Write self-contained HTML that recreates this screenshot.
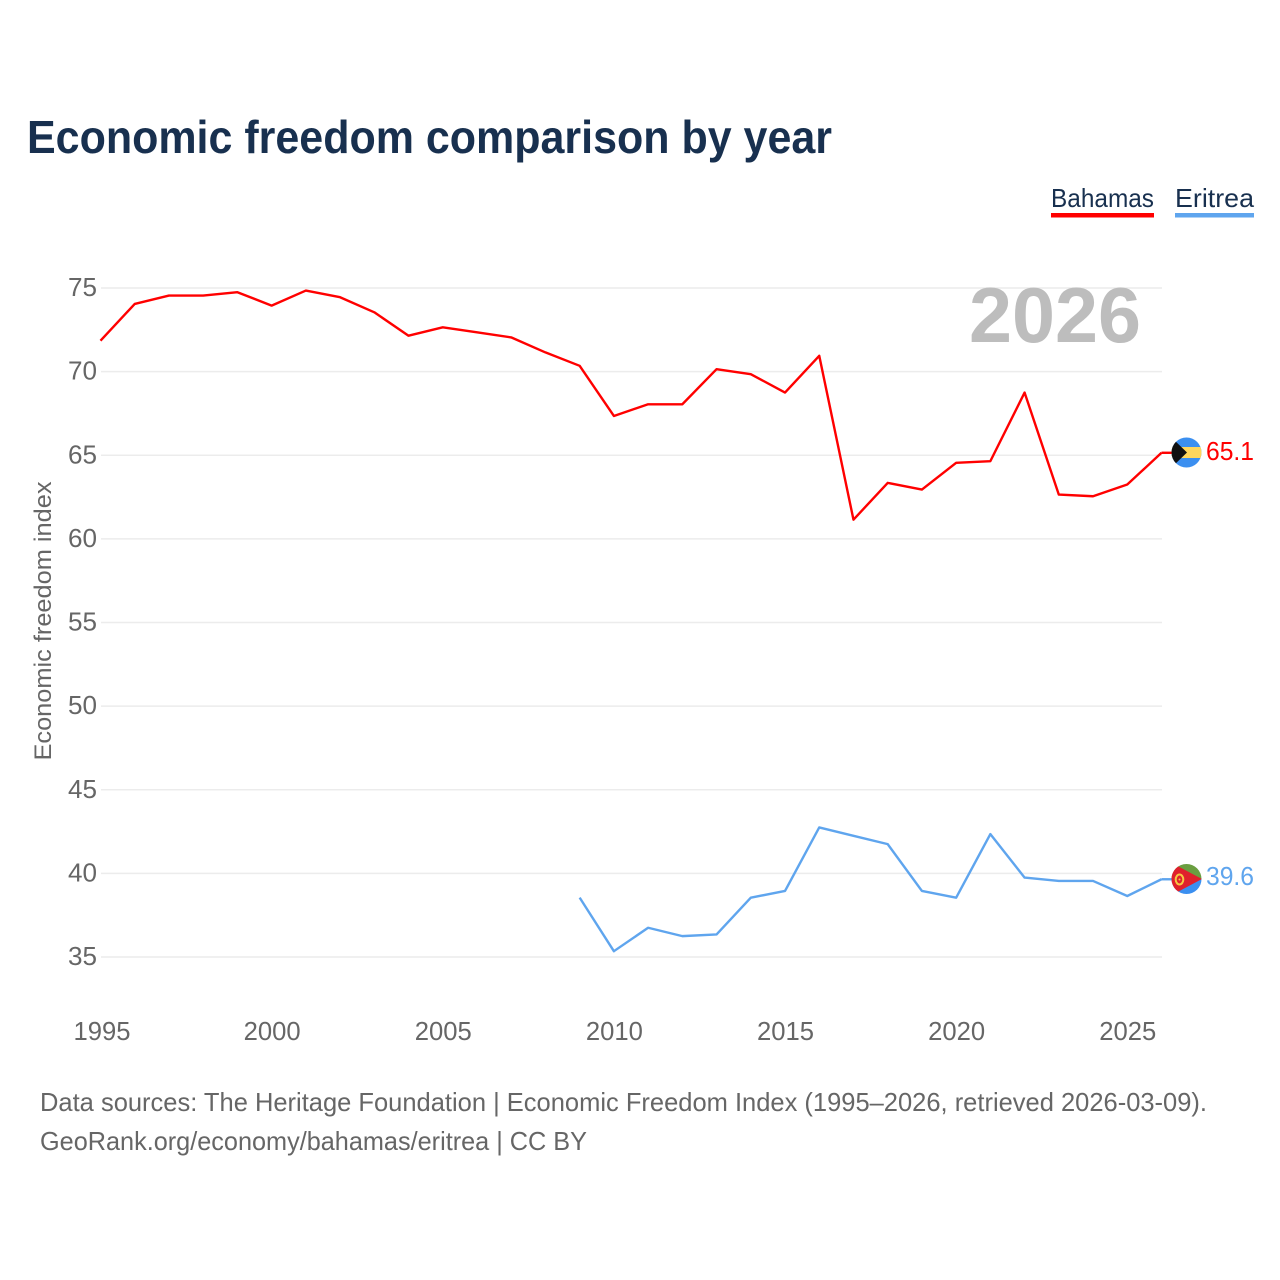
<!DOCTYPE html>
<html lang="en">
<head>
<meta charset="utf-8">
<title>Economic freedom comparison by year</title>
<style>
html,body{margin:0;padding:0;background:#fff;width:1280px;height:1280px;overflow:hidden}
svg{display:block}
text{font-family:"Liberation Sans",sans-serif}
</style>
</head>
<body>
<svg id="chart" width="1280" height="1280" viewBox="0 0 1280 1280" xmlns="http://www.w3.org/2000/svg">
  <defs>
    <clipPath id="flag-clip-a"><circle cx="1186.5" cy="452.5" r="15"/></clipPath>
    <clipPath id="flag-clip-b"><circle cx="1186.5" cy="879" r="15"/></clipPath>
  </defs>
  <rect width="1280" height="1280" fill="#fff"/>
  <text x="27" y="153" font-size="46" font-weight="700" fill="#18304f" textLength="805" lengthAdjust="spacingAndGlyphs">Economic freedom comparison by year</text>

  <g>
    <text x="1051" y="207" font-size="26" fill="#18304f" textLength="103" lengthAdjust="spacingAndGlyphs">Bahamas</text>
    <rect x="1051" y="213" width="103" height="4.5" fill="#ff0000"/>
  </g>
  <g>
    <text x="1175" y="207" font-size="26" fill="#18304f" textLength="79" lengthAdjust="spacingAndGlyphs">Eritrea</text>
    <rect x="1175" y="213" width="79" height="4.5" fill="#5fa5ee"/>
  </g>

  <g id="grid"></g>
  <text x="969" y="342" font-size="78" font-weight="700" fill="#bdbdbd" textLength="172" lengthAdjust="spacingAndGlyphs">2026</text>
  <g id="y-ticks"></g>
  <g id="x-ticks"></g>
  <text transform="translate(51,621) rotate(-90)" text-anchor="middle" font-size="24.5" fill="#666" textLength="279" lengthAdjust="spacingAndGlyphs">Economic freedom index</text>
  <g id="lines"></g>

  <g clip-path="url(#flag-clip-a)">
    <rect x="1171" y="437" width="31" height="31" fill="#3b8ff0"/>
    <rect x="1171" y="447" width="31" height="11" fill="#ffd65c"/>
    <polygon points="1170,436 1187,452.5 1170,469" fill="#111"/>
  </g>
  <g clip-path="url(#flag-clip-b)">
    <rect x="1171" y="864" width="31" height="15" fill="#6a9e40"/>
    <rect x="1171" y="879" width="31" height="16" fill="#3b8ff0"/>
    <polygon points="1170,862 1202,879 1170,896" fill="#e0202c"/>
    <ellipse cx="1179.5" cy="879.5" rx="3.8" ry="5" fill="none" stroke="#f5c842" stroke-width="2"/>
    <circle cx="1179.5" cy="879.5" r="1" fill="#f5c842"/>
  </g>

  <text x="1206" y="460" font-size="26" fill="#ff0000" textLength="48" lengthAdjust="spacingAndGlyphs">65.1</text>
  <text x="1206" y="885" font-size="26" fill="#5fa5ee" textLength="48" lengthAdjust="spacingAndGlyphs">39.6</text>

  <text x="40" y="1111" font-size="26" fill="#666" textLength="1167" lengthAdjust="spacingAndGlyphs">Data sources: The Heritage Foundation | Economic Freedom Index (1995–2026, retrieved 2026-03-09).</text>
  <text x="40" y="1150" font-size="26" fill="#666" textLength="547" lengthAdjust="spacingAndGlyphs">GeoRank.org/economy/bahamas/eritrea | CC BY</text>
</svg>
<script>
const years = [1995,1996,1997,1998,1999,2000,2001,2002,2003,2004,2005,2006,2007,2008,2009,2010,2011,2012,2013,2014,2015,2016,2017,2018,2019,2020,2021,2022,2023,2024,2025,2026];
const bahamasValues = [71.8,74.0,74.5,74.5,74.7,73.9,74.8,74.4,73.5,72.1,72.6,72.3,72.0,71.1,70.3,67.3,68.0,68.0,70.1,69.8,68.7,70.9,61.1,63.3,62.9,64.5,64.6,68.7,62.6,62.5,63.2,65.1];
const eritreaValues = [null,null,null,null,null,null,null,null,null,null,null,null,null,null,38.5,35.3,36.7,36.2,36.3,38.5,38.9,42.7,42.2,41.7,38.9,38.5,42.3,39.7,39.5,39.5,38.6,39.6];
const yTickValues = [35,40,45,50,55,60,65,70,75];
const xTickValues = [1995,2000,2005,2010,2015,2020,2025];

const NS = 'http://www.w3.org/2000/svg';
const xScale = function (year) { return 101 + (year - 1995) * (1162 - 101) / (2026 - 1995); };
const yScale = function (value) { return 288 + (75 - value) * (957 - 288) / (75 - 35); };
const lineDx = -0.5;
const lineDy = -0.8;

function make(tag, attrs, parent) {
  const el = document.createElementNS(NS, tag);
  Object.keys(attrs).forEach(function (k) { el.setAttribute(k, attrs[k]); });
  parent.appendChild(el);
  return el;
}

const grid = document.getElementById('grid');
const yTicks = document.getElementById('y-ticks');
yTickValues.forEach(function (v) {
  const line = make('line', {x1: 101, x2: 1162, y1: yScale(v), y2: yScale(v), stroke: '#ececec', 'stroke-width': 1.5}, grid);
  
  
  const label = make('text', {x: 97, y: yScale(v) + 8, 'text-anchor': 'end', 'font-size': 26, fill: '#666', textLength: 29, lengthAdjust: 'spacingAndGlyphs'}, yTicks);
  
  
  label.textContent = String(v);
});

const xTicks = document.getElementById('x-ticks');
xTickValues.forEach(function (v) {
  const label = make('text', {x: xScale(v) + (v === 1995 ? 1 : 0), y: 1040, 'text-anchor': 'middle', 'font-size': 26, fill: '#666', textLength: 57, lengthAdjust: 'spacingAndGlyphs'}, xTicks);
  
  
  label.textContent = String(v);
});

function seriesPath(values) {
  let d = '';
  let started = false;
  values.forEach(function (v, i) {
    if (v === null) { return; }
    d += (started ? 'L' : 'M') + (xScale(years[i]) + lineDx).toFixed(2) + ' ' + (yScale(v) + lineDy).toFixed(2);
    started = true;
  });
  return d;
}

const lines = document.getElementById('lines');

const bahamasLine = make('path', {d: seriesPath(bahamasValues), fill: 'none', stroke: '#ff0000', 'stroke-width': 2.4, 'stroke-linejoin': 'round'}, lines);



const eritreaLine = make('path', {d: seriesPath(eritreaValues), fill: 'none', stroke: '#5fa5ee', 'stroke-width': 2.4, 'stroke-linejoin': 'round'}, lines);



const lastBahamas = bahamasValues[bahamasValues.length - 1];
const bahamasConnector = make('line', {x1: xScale(2026) + lineDx, x2: 1174, y1: yScale(lastBahamas) + lineDy, y2: yScale(lastBahamas) + lineDy, stroke: '#ff0000', 'stroke-width': 2.4}, lines);



const lastEritrea = eritreaValues[eritreaValues.length - 1];
const eritreaConnector = make('line', {x1: xScale(2026) + lineDx, x2: 1174, y1: yScale(lastEritrea) + lineDy, y2: yScale(lastEritrea) + lineDy, stroke: '#5fa5ee', 'stroke-width': 2.4}, lines);


</script>
</body>
</html>
